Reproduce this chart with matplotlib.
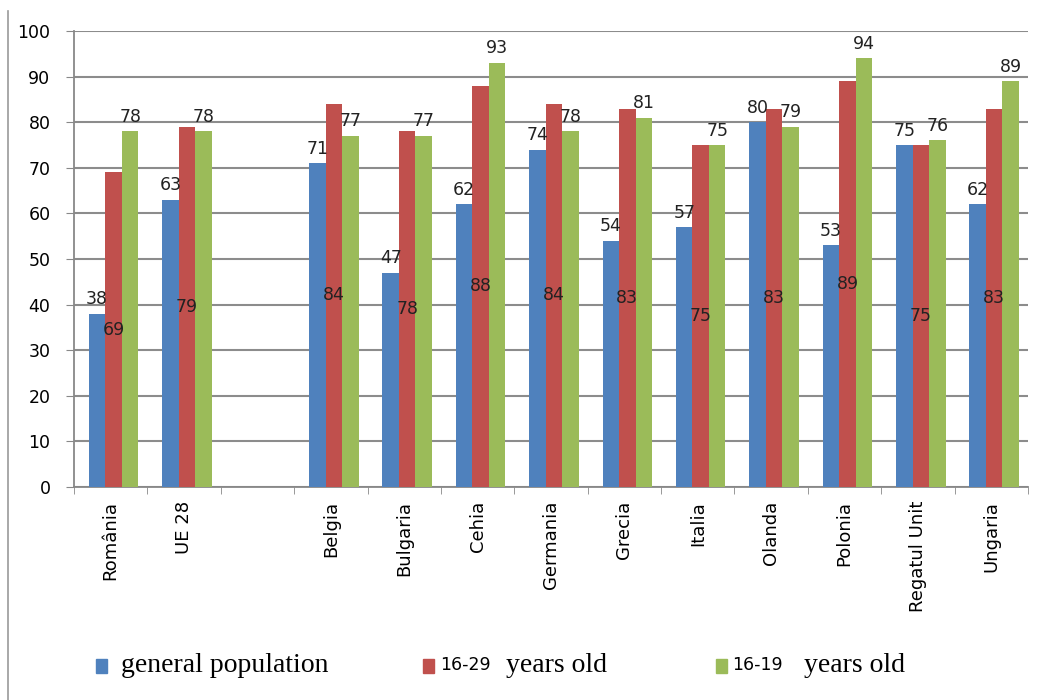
import matplotlib.pyplot as plt
import numpy as np

categories = ['România', 'UE 28', '', 'Belgia', 'Bulgaria', 'Cehia', 'Germania',
              'Grecia', 'Italia', 'Olanda', 'Polonia', 'Regatul Unit', 'Ungaria']
general = [38, 63, np.nan, 71, 47, 62, 74, 54, 57, 80, 53, 75, 62]
age16_29 = [69, 79, np.nan, 84, 78, 88, 84, 83, 75, 83, 89, 75, 83]
age16_19 = [78, 78, np.nan, 77, 77, 93, 78, 81, 75, 79, 94, 76, 89]

blue = '#4F81BD'
red = '#C0504D'
green = '#9BBB59'

fig = plt.figure(figsize=(10.41, 7), dpi=100)
ax = fig.add_axes([74/1041, 213/700, 954/1041, 456/700])

x = np.arange(len(categories))
w = 0.225
off = 0.04
ax.bar(x - w + off, general, w, color=blue, zorder=3)
ax.bar(x + off, age16_29, w, color=red, zorder=3)
ax.bar(x + w + off, age16_19, w, color=green, zorder=3)

lab_font = dict(fontsize=12.5, color='#222222', family='DejaVu Sans')
for i in range(len(categories)):
    if np.isnan(general[i]):
        continue
    ax.text(x[i] - w + off, general[i] + 1.2, str(general[i]), ha='center', va='bottom', **lab_font)
    ax.text(x[i] + off, age16_29[i] / 2, str(age16_29[i]), ha='center', va='center', **lab_font)
    ax.text(x[i] + w + off, age16_19[i] + 1.2, str(age16_19[i]), ha='center', va='bottom', **lab_font)

ax.set_xlim(-0.5, len(categories) - 0.5)
ax.set_ylim(0, 100)
ax.set_yticks(np.arange(0, 101, 10))
ax.yaxis.grid(True, color='#8c8c8c', linewidth=1.5, zorder=0)
ax.set_axisbelow(True)

ax.set_xticks(x)
ax.set_xticklabels(categories, rotation=90, fontsize=13)
ax.set_xticks(np.arange(-0.5, len(categories), 1), minor=True)
ax.tick_params(axis='x', which='major', length=0, pad=10)
ax.tick_params(axis='x', which='minor', length=5, color='#888888', direction='out')
ax.tick_params(axis='y', length=6, color='#888888', labelsize=12.5, direction='out', pad=11)

for s in ['top', 'right']:
    ax.spines[s].set_visible(False)
for s in ['left', 'bottom']:
    ax.spines[s].set_color('#888888')
    ax.spines[s].set_linewidth(1.3)

# page frame line at left
fig.add_artist(plt.Line2D([8/1041, 8/1041], [0, 1 - 11/700], color='#999999', linewidth=1.2))

# legend drawn manually
ly = 1 - 665/700
serif = 'Liberation Serif'
sq_w, sq_h = 11/1041, 0.019
fig.patches.append(plt.Rectangle((96/1041, ly - 0.011), sq_w, sq_h, color=blue, transform=fig.transFigure))
fig.text(121/1041, ly, 'general population', fontsize=20, family=serif, va='center')
fig.patches.append(plt.Rectangle((423/1041, ly - 0.011), sq_w, sq_h, color=red, transform=fig.transFigure))
fig.text(440/1041, ly, '16-29', fontsize=12.5, va='center')
fig.text(506/1041, ly, 'years old', fontsize=20, family=serif, va='center')
fig.patches.append(plt.Rectangle((716/1041, ly - 0.011), sq_w, sq_h, color=green, transform=fig.transFigure))
fig.text(732/1041, ly, '16-19', fontsize=12.5, va='center')
fig.text(804/1041, ly, 'years old', fontsize=20, family=serif, va='center')

fig.savefig('out.png', dpi=100)
